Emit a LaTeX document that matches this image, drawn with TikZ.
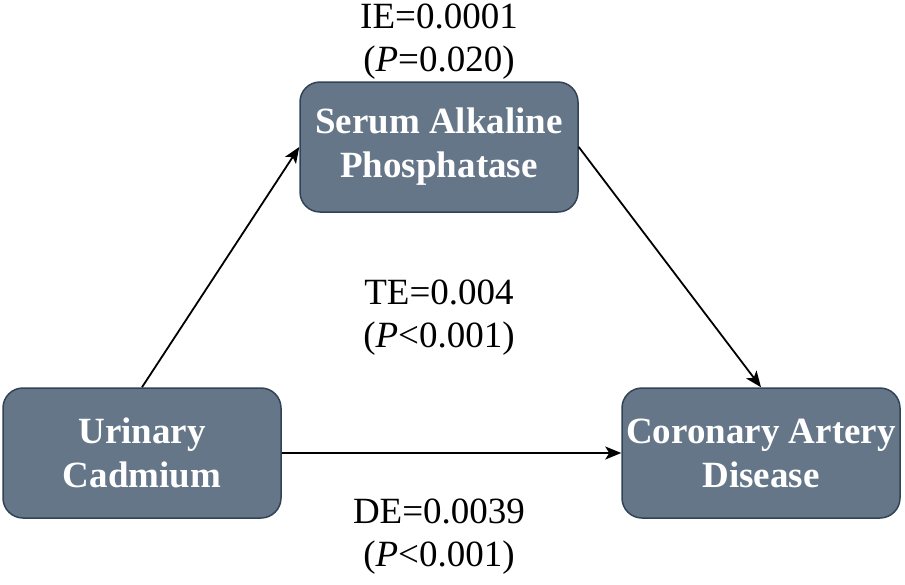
\documentclass[tikz,border=0pt]{standalone}
\usepackage{fontspec}
\setmainfont{Liberation Serif}
\usepackage{xcolor}
\usetikzlibrary{arrows.meta}

\definecolor{slatefill}{HTML}{647687}
\definecolor{slateline}{HTML}{314354}

\begin{document}
\begin{tikzpicture}[x=1pt, y=-1pt,
    every node/.style={font=\fontsize{37}{43}\selectfont, align=center},
    varbox/.style={draw=slateline, fill=slatefill, line width=1.5pt, rounded corners=20pt,
        minimum width=278pt, minimum height=130pt, text=white, font=\fontsize{37}{44}\selectfont\bfseries},
    effect/.style={line width=1.8pt, -{Stealth[length=16pt, width=13pt, inset=4pt]}}]
    \useasboundingbox (0,0) rectangle (905,584);

    % Draw the three variables
    \node[varbox] (sap) at (439,147) {Serum Alkaline\\Phosphatase};
    \node[varbox] (cad) at (142,453) {Urinary\\Cadmium};
    \node[varbox] (cad2) at (761,453) {Coronary Artery\\Disease};

    % Draw the paths between them
    \draw[effect] (cad.north) -- (sap.west);
    \draw[effect] (sap.east) -- (cad2.north);
    \draw[effect] (cad.east) -- (cad2.west);

    % Effect labels
    \node (ie) at (439,42) {IE=0.0001\\(\textit{P}=0.020)};
    \node (te) at (439,318) {TE=0.004\\(\textit{P}<0.001)};
    \node (de) at (439,537) {DE=0.0039\\(\textit{P}<0.001)};
\end{tikzpicture}
\end{document}
